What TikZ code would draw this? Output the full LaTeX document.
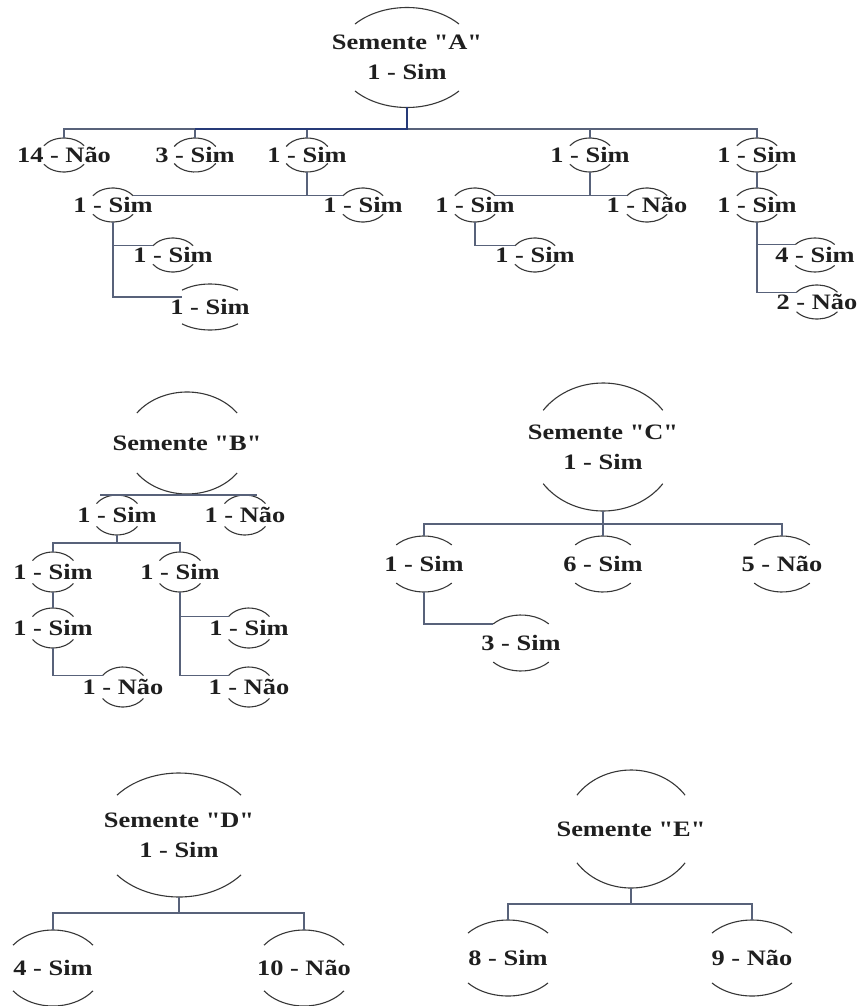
\documentclass[tikz,border=0pt]{standalone}
\usepackage{fontspec}
\setmainfont{Liberation Serif}[FakeStretch=1.2,Ligatures=TeXOff]
\definecolor{linec}{RGB}{88,98,122}
\definecolor{bluec}{RGB}{38,58,120}
\definecolor{arcc}{RGB}{55,55,55}
\newcommand\seed[7]{%
  \node[lbl] (#1) at (#2,-#3) {#4};
  \coordinate (#1-t) at (#2,{-#3+#6});
  \coordinate (#1-b) at (#2,{-#3-#6});
  \path (#1.center) ++(180-#7:#5 and #6) coordinate (#1-tl);
  \path (#1.center) ++(#7:#5 and #6) coordinate (#1-tr);
  \draw[arcline] (#1.center) ++(180-#7:#5 and #6) arc[start angle=180-#7, end angle=#7, x radius=#5, y radius=#6];
  \draw[arcline] (#1.center) ++(180+#7:#5 and #6) arc[start angle=180+#7, end angle=360-#7, x radius=#5, y radius=#6];
}
\begin{document}
\begin{tikzpicture}[x=1pt,y=1pt,
  lbl/.style={inner sep=0pt, align=center, font=\fontsize{22}{30}\selectfont\bfseries, text=black!88},
  arcline/.style={draw=arcc, line width=1.1pt},
  conn/.style={draw=linec, line width=1.3pt},
  blueconn/.style={draw=bluec, line width=2.6pt}]
\clip (0,0) rectangle (859,-1006);
\fill[white] (0,0) rectangle (859,-1006);

% ---------- Tree A ----------
\seed{A0}{407}{57.5}{Semente "A"\\1 - Sim}{70}{50}{42}
\seed{A1}{64}{155}{14 - Não}{24}{17}{33}
\seed{A2}{195}{155}{3 - Sim}{24}{17}{30}
\seed{A3}{307}{155}{1 - Sim}{24}{17}{30}
\seed{A4}{590}{155}{1 - Sim}{24}{17}{33}
\seed{A5}{757}{155}{1 - Sim}{24}{17}{33}
\seed{A31}{113}{205}{1 - Sim}{24}{17}{33}
\seed{A32}{363}{205}{1 - Sim}{24}{17}{33}
\seed{A311}{173}{255}{1 - Sim}{24}{17}{33}
\seed{A312}{210}{307}{1 - Sim}{41}{23}{47}
\seed{A41}{475}{205}{1 - Sim}{24}{17}{33}
\seed{A42}{647}{205}{1 - Não}{24}{17}{33}
\seed{A411}{535}{255}{1 - Sim}{24}{17}{33}
\seed{A51}{757}{205}{1 - Sim}{24}{17}{33}
\seed{A511}{815}{255}{4 - Sim}{25}{17}{38}
\seed{A512}{817}{302}{2 - Não}{25}{17}{35}

\coordinate (busA) at (407,-129);
\draw[conn] (A1-t) |- (A2-t |- busA);
\draw[conn] (busA) -| (A5-t);
\draw[conn] (A2-t) -- (A2-t |- busA);
\draw[conn] (A3-t) -- (A3-t |- busA);
\draw[conn] (A4-t) -- (A4-t |- busA);
\draw[blueconn] (A0-b) |- (A2-t |- busA);

\draw[conn] (A3-b) -- (A3-b |- A31-tr);
\draw[conn] (A31-tr) -- (A32-tl);
\coordinate (kA31) at (113,-297);
\draw[conn] (A31-b) -- (kA31) -- (A312-tl |- kA31);
\draw[conn] (A31-b |- A311-tl) -- (A311-tl);

\draw[conn] (A4-b) -- (A4-b |- A41-tr);
\draw[conn] (A41-tr) -- (A42-tl);
\draw[conn] (A41-b) |- (A411-tl);

\draw[conn] (A5-b) -- (A51-t);
\draw[conn] (A51-b) |- (A512-tl);
\draw[conn] (A51-b |- A511-tl) -- (A511-tl);

% ---------- Tree B ----------
\seed{B0}{187}{443}{Semente "B"}{62}{51}{36}
\seed{B1}{117}{515}{1 - Sim}{25}{20}{35}
\seed{B2}{245}{515}{1 - Não}{25}{20}{35}
\seed{B11}{53}{572}{1 - Sim}{25}{20}{35}
\seed{B12}{180}{572}{1 - Sim}{25}{20}{35}
\seed{B111}{53}{628}{1 - Sim}{25}{20}{35}
\seed{B1111}{123}{687}{1 - Não}{25}{20}{35}
\seed{B121}{249}{628}{1 - Sim}{25}{20}{35}
\seed{B122}{249}{687}{1 - Não}{25}{20}{35}

\draw[conn] ([xshift=-17pt]B1-t) -- ([xshift=12pt]B2-t);
\coordinate (jB1) at (117,-543);
\draw[conn] (B1-b) -- (jB1);
\draw[conn] (B11-t) |- (jB1) -| (B12-t);
\draw[conn] (B11-b) -- (B111-t);
\draw[conn] (B111-b) |- (B1111-tl);
\draw[conn] (B12-b) |- (B122-tl);
\draw[conn] (B12-b |- B121-tl) -- (B121-tl);

% ---------- Tree C ----------
\seed{C0}{603}{447}{Semente "C"\\1 - Sim}{73}{64}{35}
\seed{C1}{424}{564}{1 - Sim}{38}{28}{43}
\seed{C2}{603}{564}{6 - Sim}{38}{28}{43}
\seed{C3}{782}{564}{5 - Não}{38}{28}{43}
\seed{C11}{521}{643}{3 - Sim}{38}{28}{43}

\coordinate (jC) at (603,-524);
\draw[conn] (C0-b) -- (jC);
\draw[conn] (C1-t) |- (jC) -| (C3-t);
\draw[conn] (C2-t) -- (jC);
\draw[conn] (C1-b) |- (C11-tl);

% ---------- Tree D ----------
\seed{D0}{179}{835}{Semente "D"\\1 - Sim}{81}{62}{40}
\seed{D1}{53}{968}{4 - Sim}{50}{38}{37}
\seed{D2}{304}{968}{10 - Não}{50}{38}{37}

\coordinate (jD) at (179,-913);
\draw[conn] (D0-b) -- (jD);
\draw[conn] (D1-t) |- (jD) -| (D2-t);

% ---------- Tree E ----------
\seed{E0}{631}{829}{Semente "E"}{66}{59}{35}
\seed{E1}{508}{958}{8 - Sim}{53}{38}{41}
\seed{E2}{752}{958}{9 - Não}{53}{38}{41}

\coordinate (jE) at (631,-904);
\draw[conn] (E0-b) -- (jE);
\draw[conn] (E1-t) |- (jE) -| (E2-t);
\end{tikzpicture}
\end{document}
